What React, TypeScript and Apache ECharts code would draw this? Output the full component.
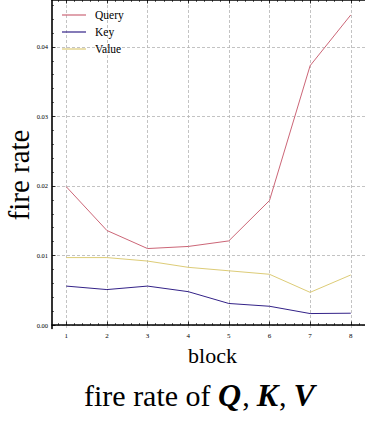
import React, { useEffect, useRef } from "react";
import * as echarts from "echarts";

const blocks = [1, 2, 3, 4, 5, 6, 7, 8];
const queryRate = [0.0199, 0.0136, 0.011, 0.0113, 0.0121, 0.0179, 0.0373, 0.0446];
const keyRate = [0.0056, 0.0051, 0.0056, 0.0048, 0.0031, 0.0027, 0.00165, 0.0017];
const valueRate = [0.0097, 0.0097, 0.0092, 0.0083, 0.0078, 0.0073, 0.0047, 0.0072];
const yTicks = [0, 0.01, 0.02, 0.03, 0.04];
const seriesNames = ["Query", "Key", "Value"];

const SERIF = "Liberation Serif";

export default function App() {
  const ref = useRef<HTMLDivElement>(null);
  useEffect(() => {
    if (!ref.current) return;
    const chart = echarts.init(ref.current, null, { renderer: "svg" });

    const xMinor: number[] = [];
    for (let i = 4; i <= 41; i++) {
      if (i % 5 !== 0) xMinor.push(i / 5);
    }
    const yMinor: number[] = [];
    for (let i = 1; i <= 23; i++) {
      if (i % 5 !== 0) yMinor.push(Math.round(i * 2) / 1000);
    }

    const gridLine = { show: true, lineStyle: { color: "#b4b4b4", width: 0.8, type: [3, 2] as any } };
    const axisLineStyle = { show: true, lineStyle: { color: "#000", width: 1.6 } };
    const xMin = 0.65;
    const xMax = 8.35;
    const yMin = -0.0005;
    const yMax = 0.04675;

    const mk = (d: number[]) => blocks.map((b, i) => [b, d[i]]);

    chart.setOption({
      animation: false,
      backgroundColor: "#fff",
      grid: { left: 52, right: -10, top: 0, bottom: 92.5, containLabel: false },
      title: {
        text: "{a|fire rate of }{b|Q}{c|,}{b|K}{c|,}{b|V}",
        left: 84,
        top: 379,
        padding: 0,
        textStyle: {
          fontWeight: "normal",
          fontFamily: SERIF,
          rich: {
            a: { fontFamily: SERIF, fontSize: 30, color: "#000", fontWeight: "normal" },
            b: { fontFamily: SERIF, fontSize: 32, color: "#000", fontStyle: "italic", fontWeight: "bold" },
            c: { fontFamily: SERIF, fontSize: 30, color: "#000", fontWeight: "normal", padding: [0, 7, 0, 1] },
          },
        },
      },
      graphic: [
        {
          type: "text",
          x: 19,
          y: 175,
          rotation: Math.PI / 2,
          style: {
            text: "fire rate",
            fontFamily: SERIF,
            fontSize: 29,
            fill: "#000",
            align: "center",
            verticalAlign: "middle",
          },
        },
      ],
      legend: {
        data: seriesNames,
        orient: "vertical",
        left: 62,
        top: 9,
        padding: 0,
        icon: "rect",
        itemWidth: 24,
        itemHeight: 1.2,
        itemGap: 5,
        textStyle: { fontFamily: SERIF, fontSize: 11.5, color: "#000", padding: [0, 0, 0, 4], lineHeight: 12 },
      },
      xAxis: [
        {
          type: "value",
          min: xMin,
          max: xMax,
          position: "bottom",
          name: "block",
          nameLocation: "middle",
          nameGap: 6,
          nameTextStyle: { fontFamily: SERIF, fontSize: 22, color: "#000", verticalAlign: "top", padding: [0, 0, 0, 8] },
          axisLine: axisLineStyle,
          axisTick: { show: true, inside: true, length: 3.5, customValues: blocks, lineStyle: { color: "#000", width: 0.8 } },
          axisLabel: { show: true, customValues: blocks, fontFamily: SERIF, fontSize: 7, color: "#000", margin: 4, formatter: (v: number) => String(v) },
          splitLine: gridLine,
        },
        {
          type: "value",
          min: xMin,
          max: xMax,
          position: "bottom",
          axisLine: { show: false },
          axisTick: { show: true, inside: true, length: 2, customValues: xMinor, lineStyle: { color: "#000", width: 0.6 } },
          axisLabel: { show: false },
          splitLine: { show: false },
        },
        {
          type: "value",
          min: xMin,
          max: xMax,
          position: "top",
          axisLine: axisLineStyle,
          axisTick: { show: true, inside: true, length: 3.5, customValues: blocks, lineStyle: { color: "#000", width: 0.8 } },
          axisLabel: { show: false },
          splitLine: { show: false },
        },
        {
          type: "value",
          min: xMin,
          max: xMax,
          position: "top",
          axisLine: { show: false },
          axisTick: { show: true, inside: true, length: 2, customValues: xMinor, lineStyle: { color: "#000", width: 0.6 } },
          axisLabel: { show: false },
          splitLine: { show: false },
        },
      ],
      yAxis: [
        {
          type: "value",
          min: yMin,
          max: yMax,
          position: "left",
          axisLine: axisLineStyle,
          axisTick: { show: true, inside: true, length: 3.5, customValues: yTicks, lineStyle: { color: "#000", width: 0.8 } },
          axisLabel: { show: true, customValues: yTicks, fontFamily: SERIF, fontSize: 6.5, color: "#000", margin: 4, formatter: (v: number) => v.toFixed(2) },
          splitLine: gridLine,
        },
        {
          type: "value",
          min: yMin,
          max: yMax,
          position: "left",
          axisLine: { show: false },
          axisTick: { show: true, inside: true, length: 2, customValues: yMinor, lineStyle: { color: "#000", width: 0.6 } },
          axisLabel: { show: false },
          splitLine: { show: false },
        },
      ],
      series: [
        { name: "Query", type: "line", data: mk(queryRate), symbol: "none", lineStyle: { color: "#CC6677", width: 1 }, itemStyle: { color: "#CC6677" } },
        { name: "Key", type: "line", data: mk(keyRate), symbol: "none", lineStyle: { color: "#332288", width: 1 }, itemStyle: { color: "#332288" } },
        { name: "Value", type: "line", data: mk(valueRate), symbol: "none", lineStyle: { color: "#DDCC77", width: 1 }, itemStyle: { color: "#DDCC77" } },
      ],
    });
    return () => chart.dispose();
  }, []);
  return <div ref={ref} style={{ position: "fixed", left: 0, top: 0, width: 365, height: 421, background: "#fff" }} />;
}
